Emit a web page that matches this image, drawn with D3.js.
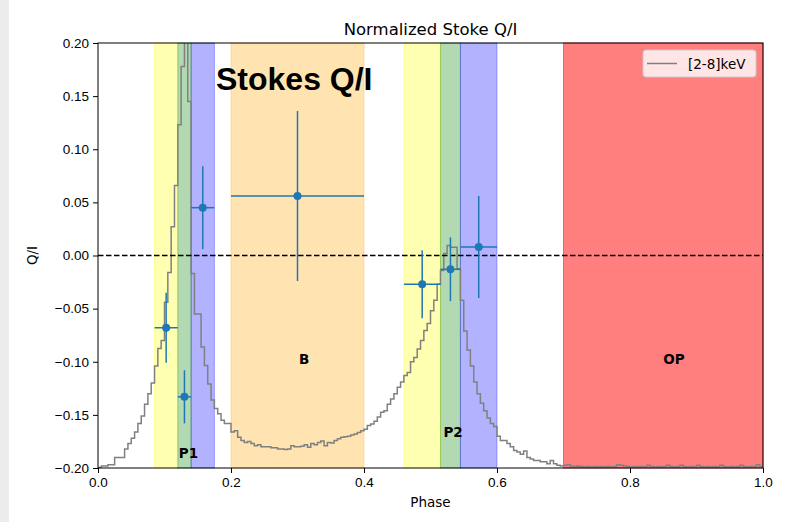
<!DOCTYPE html>
<html lang="en">
<head>
    <meta charset="UTF-8">
    <title>Normalized Stoke Q/I</title>
    <script src="https://d3js.org/d3.v7.min.js"></script>
    <style>
        body { margin: 0; background: white; }
        svg { display: block; font-family: "DejaVu Sans", sans-serif; }
        .tick text { font-size: 13.5px; fill: black; }
        .tick line { stroke: black; }
        .domain { display: none; }
    </style>
</head>
<body>
    <svg class="chart" width="788" height="522"></svg>

    <script>
        // Stokes Q/I measurements per phase interval
        const phase    = [0.1025, 0.13, 0.1575, 0.30, 0.4875, 0.53, 0.5725];
        const phaseErr = [0.0175, 0.01, 0.0175, 0.10, 0.0275, 0.015, 0.0275];
        const qi       = [-0.068, -0.133, 0.045, 0.056, -0.027, -0.013, 0.008];
        const qiErr    = [0.033, 0.025, 0.039, 0.080, 0.032, 0.030, 0.048];

        // shaded phase intervals
        const bandStart  = [0.085, 0.12, 0.14, 0.2, 0.46, 0.515, 0.545, 0.7];
        const bandEnd    = [0.12, 0.14, 0.175, 0.4, 0.515, 0.545, 0.6, 1.0];
        const bandColors = ["yellow", "green", "blue", "orange", "yellow", "green", "blue", "red"];
        const bandAlpha  = [0.3, 0.3, 0.3, 0.3, 0.3, 0.3, 0.3, 0.5];

        // interval labels
        const labelText  = ["P1", "B", "P2", "OP"];
        const labelPhase = [0.136, 0.31, 0.534, 0.866];
        const labelQI    = [-0.186, -0.097, -0.166, -0.097];

        // [2-8] keV pulse profile (200 phase bins), scaled to the Q/I axis
        const binWidth = 0.005;
        const lightCurve = [
            -0.1995, -0.198, -0.198, -0.197, -0.197, -0.190, -0.190, -0.190, -0.182, -0.177,
            -0.172, -0.166, -0.158, -0.151, -0.140, -0.130, -0.120, -0.104, -0.0875, -0.080,
            -0.044, -0.016, 0.027, 0.066, 0.123, 0.178, 0.30, 0.145, -0.017, -0.055,
            -0.055, -0.086, -0.1035, -0.121, -0.136, -0.144, -0.149, -0.155, -0.158, -0.158,
            -0.166, -0.165, -0.171, -0.174, -0.176, -0.175, -0.177, -0.179, -0.178, -0.180,
            -0.180, -0.180, -0.181, -0.181, -0.182, -0.182, -0.1826, -0.182, -0.179, -0.180,
            -0.180, -0.1795, -0.178, -0.1805, -0.177, -0.178, -0.176, -0.1745, -0.179, -0.176,
            -0.1765, -0.174, -0.1725, -0.171, -0.1705, -0.170, -0.169, -0.168, -0.1665, -0.165,
            -0.1635, -0.160, -0.1585, -0.156, -0.152, -0.1475, -0.146, -0.140, -0.135, -0.130,
            -0.124, -0.119, -0.113, -0.110, -0.100, -0.096, -0.088, -0.080, -0.0706, -0.064,
            -0.052, -0.042, -0.027, -0.014, 0.002, 0.0094, 0.0078, 0.0078, -0.0125, -0.042,
            -0.071, -0.089, -0.104, -0.119, -0.130, -0.139, -0.146, -0.153, -0.158, -0.161,
            -0.170, -0.174, -0.174, -0.177, -0.180, -0.1835, -0.185, -0.187, -0.184, -0.190,
            -0.1915, -0.193, -0.193, -0.194, -0.194, -0.196, -0.193, -0.196, -0.1975, -0.198,
            -0.1975, -0.197, -0.198, -0.1985, -0.198, -0.1985, -0.199, -0.1985, -0.199, -0.1985,
            -0.199, -0.1985, -0.199, -0.1985, -0.199, -0.1985, -0.197, -0.1975, -0.198, -0.1985,
            -0.199, -0.1985, -0.199, -0.1985, -0.199, -0.1975, -0.1985, -0.199, -0.1985, -0.199,
            -0.1985, -0.1975, -0.1985, -0.199, -0.1985, -0.1975, -0.1985, -0.199, -0.1985, -0.199,
            -0.1975, -0.1985, -0.199, -0.1985, -0.199, -0.1985, -0.199, -0.1975, -0.1985, -0.199,
            -0.1985, -0.199, -0.1985, -0.1975, -0.1985, -0.199, -0.1985, -0.1985, -0.197, -0.1985
        ];

        const xTicks = [0.0, 0.2, 0.4, 0.6, 0.8, 1.0];
        const yTicks = [-0.20, -0.15, -0.10, -0.05, 0.00, 0.05, 0.10, 0.15, 0.20];

        const margin = { top: 43, right: 25, bottom: 54, left: 98 },
              width = 788 - margin.left - margin.right,
              height = 522 - margin.top - margin.bottom;

        const root = d3.select(".chart");

        // faint screenshot edge on the left
        root.append("rect").attr("x", 0).attr("y", 0).attr("width", 9).attr("height", 522)
            .attr("fill", "#ececec");

        const svg = root.append("g")
            .attr("transform", `translate(${margin.left},${margin.top})`);

        const x = d3.scaleLinear().domain([0, 1]).range([0, width]);
        const y = d3.scaleLinear().domain([-0.2, 0.2]).range([height, 0]);

        svg.append("clipPath").attr("id", "plot-clip")
            .append("rect").attr("width", width).attr("height", height);

        // Shaded intervals
        svg.selectAll(".band")
            .data(bandStart)
            .enter().append("rect")
            .attr("class", "band")
            .attr("x", (d, i) => x(d))
            .attr("y", 0)
            .attr("width", (d, i) => x(bandEnd[i]) - x(d))
            .attr("height", height)
            .attr("fill", (d, i) => bandColors[i])
            .attr("fill-opacity", (d, i) => bandAlpha[i])
            .attr("stroke", (d, i) => bandColors[i])
            .attr("stroke-opacity", (d, i) => bandAlpha[i])
            .attr("stroke-width", 1);

        // Pulse profile as step histogram
        const stepData = lightCurve.map((v, i) => [i * binWidth, v]);
        stepData.push([lightCurve.length * binWidth, lightCurve[lightCurve.length - 1]]);

        const stepLine = d3.line()
            .x(d => x(d[0]))
            .y(d => y(d[1]))
            .curve(d3.curveStepAfter);

        svg.append("path")
            .datum(stepData)
            .attr("clip-path", "url(#plot-clip)")
            .attr("fill", "none")
            .attr("stroke", "grey")
            .attr("stroke-width", 1.5)
            .attr("d", stepLine);

        // zero line
        svg.append("line")
            .attr("x1", x(0)).attr("x2", x(1))
            .attr("y1", y(0)).attr("y2", y(0))
            .attr("stroke", "black")
            .attr("stroke-width", 1.5)
            .attr("stroke-dasharray", "5.5,2.5");

        // Error bars
        const eb = svg.selectAll(".eb").data(phase).enter().append("g").attr("class", "eb");
        eb.append("line")
            .attr("x1", (d, i) => x(d - phaseErr[i]))
            .attr("x2", (d, i) => x(d + phaseErr[i]))
            .attr("y1", (d, i) => y(qi[i]))
            .attr("y2", (d, i) => y(qi[i]))
            .attr("stroke", "#1f77b4").attr("stroke-width", 1.5);
        eb.append("line")
            .attr("x1", d => x(d))
            .attr("x2", d => x(d))
            .attr("y1", (d, i) => y(qi[i] - qiErr[i]))
            .attr("y2", (d, i) => y(qi[i] + qiErr[i]))
            .attr("stroke", "#1f77b4").attr("stroke-width", 1.5);
        eb.append("circle")
            .attr("cx", d => x(d))
            .attr("cy", (d, i) => y(qi[i]))
            .attr("r", 4)
            .attr("fill", "#1f77b4");

        // Interval labels
        svg.selectAll(".region-label")
            .data(labelText)
            .enter().append("text")
            .attr("class", "region-label")
            .attr("x", (d, i) => x(labelPhase[i]))
            .attr("y", (d, i) => y(labelQI[i]))
            .attr("text-anchor", "middle")
            .attr("dominant-baseline", "central")
            .style("font-weight", "bold")
            .style("font-size", "13.5px")
            .text(d => d);

        // Axes
        const fmtY = d => d3.format(".2f")(d).replace("-", "\u2212");
        svg.append("g")
            .attr("transform", `translate(0,${height})`)
            .call(d3.axisBottom(x).tickValues(xTicks).tickFormat(d3.format(".1f")).tickSize(5).tickPadding(4));
        svg.append("g")
            .call(d3.axisLeft(y).tickValues(yTicks).tickFormat(fmtY).tickSize(5).tickPadding(4));

        // frame
        svg.append("rect")
            .attr("width", width).attr("height", height)
            .attr("fill", "none").attr("stroke", "black").attr("stroke-width", 1);

        // Titles
        root.append("text")
            .attr("x", margin.left + width / 2).attr("y", 35)
            .attr("text-anchor", "middle")
            .style("font-size", "16.5px")
            .text("Normalized Stoke Q/I");
        root.append("text")
            .attr("x", margin.left + width / 2).attr("y", 507)
            .attr("text-anchor", "middle")
            .style("font-size", "13.5px")
            .text("Phase");
        root.append("text")
            .attr("transform", `translate(37,${margin.top + height / 2}) rotate(-90)`)
            .attr("text-anchor", "middle")
            .style("font-size", "13.5px")
            .text("Q/I");

        // Annotation
        root.append("text")
            .attr("x", 216).attr("y", 90)
            .style("font-family", "'Liberation Sans', Arial, sans-serif")
            .style("font-weight", "bold")
            .style("font-size", "32px")
            .text("Stokes Q/I");

        // Legend
        const legend = root.append("g").attr("transform", "translate(643,50)");
        legend.append("rect")
            .attr("width", 113).attr("height", 27).attr("rx", 3)
            .attr("fill", "white").attr("fill-opacity", 0.8)
            .attr("stroke", "#cccccc");
        legend.append("line")
            .attr("x1", 4).attr("x2", 34).attr("y1", 13.5).attr("y2", 13.5)
            .attr("stroke", "grey").attr("stroke-width", 1.5);
        legend.append("text")
            .attr("x", 45).attr("y", 18.5)
            .style("font-size", "13.5px")
            .text("[2-8]keV");
    </script>
</body>
</html>
